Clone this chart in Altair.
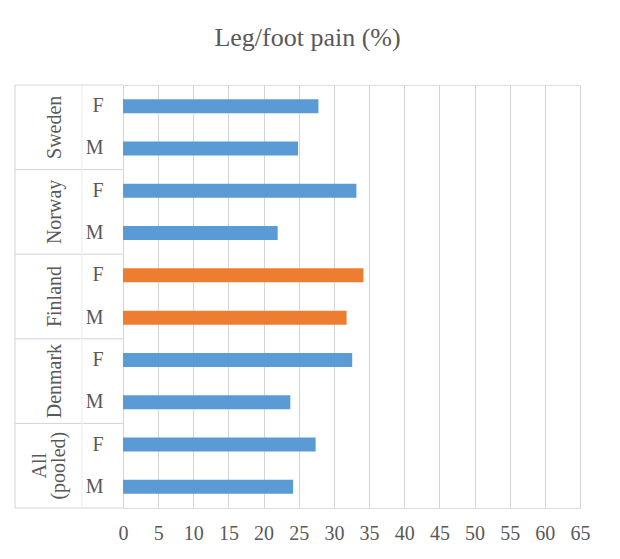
import altair as alt
import pandas as pd

# Data (top to bottom)
countries = ["Sweden", "Sweden", "Norway", "Norway", "Finland", "Finland",
             "Denmark", "Denmark", "All (pooled)", "All (pooled)"]
sexes = ["F", "M", "F", "M", "F", "M", "F", "M", "F", "M"]
values = [27.8, 24.9, 33.2, 22.0, 34.2, 31.8, 32.6, 23.8, 27.4, 24.2]
highlight_country = "Finland"
x_ticks = list(range(0, 70, 5))

keys = [f"{c}|{s}" for c, s in zip(countries, sexes)]
df = pd.DataFrame({
    "key": keys,
    "country": countries,
    "label": [c.replace(" ", "\n") for c in countries],
    "multi": [" " in c for c in countries],
    "sex": sexes,
    "value": values,
    "hl": ["hl" if c == highlight_country else "other" for c in countries],
})

FONT = "Liberation Serif"
TXT = "#595959"
LINE = "#D4D4D4"
W, H = 457, 423

yscale = alt.Scale(paddingInner=0, paddingOuter=0)

base = alt.Chart(df)

bars = base.mark_bar(size=14).encode(
    x=alt.X("value:Q", scale=alt.Scale(domain=[0, 65], nice=False),
            axis=alt.Axis(values=x_ticks, title=None, grid=True, gridColor=LINE,
                          domain=False, ticks=False, labelPadding=15,
                          labelFlush=False,
                          labelFont=FONT, labelFontSize=20, labelColor=TXT)),
    y=alt.Y("key:N", sort=keys, scale=yscale,
            axis=alt.Axis(title=None, ticks=False, domain=True, domainColor=LINE,
                          labelPadding=20, labelFont=FONT, labelFontSize=20,
                          labelColor=TXT,
                          labelExpr="substring(datum.label, length(datum.label)-1)")),
    color=alt.Color("hl:N", scale=alt.Scale(domain=["other", "hl"],
                                            range=["#5B9BD5", "#ED7D31"]),
                    legend=None),
)

# Country (group) labels, rotated, centred between F and M
label_style = dict(angle=270, align="center", baseline="middle", font=FONT,
                   fontSize=20, color=TXT, lineBreak="\n", lineHeight=19)
group_labels = base.transform_filter(
    (alt.datum.sex == "F") & (~alt.datum.multi)
).mark_text(**label_style).encode(
    y=alt.Y("key:N", sort=keys, bandPosition=1),
    x=alt.value(-68),
    text="label:N",
)
group_labels2 = base.transform_filter(
    (alt.datum.sex == "F") & (alt.datum.multi)
).mark_text(**label_style).encode(
    y=alt.Y("key:N", sort=keys, bandPosition=1),
    x=alt.value(-83),
    text="label:N",
)

# Horizontal separators between groups (axis area only)
sep_top = base.transform_filter(alt.datum.sex == "F").mark_rule(color=LINE).encode(
    y=alt.Y("key:N", sort=keys, bandPosition=0),
    x=alt.value(-108), x2=alt.value(0),
)
sep_bottom = base.transform_filter(alt.datum.key == keys[-1]).mark_rule(color=LINE).encode(
    y=alt.Y("key:N", sort=keys, bandPosition=1),
    x=alt.value(-108), x2=alt.value(0),
)
# Vertical borders of the category axis area
vleft = base.transform_filter(alt.datum.key == keys[0]).mark_rule(color=LINE).encode(
    x=alt.value(-108), y=alt.value(0), y2=alt.value(H),
)
vmid = base.transform_filter(alt.datum.key == keys[0]).mark_rule(color="#EBEBEB").encode(
    x=alt.value(-41), y=alt.value(0), y2=alt.value(H),
)

chart = alt.layer(bars, sep_top, sep_bottom, vleft, vmid,
                  group_labels, group_labels2).properties(
    width=W, height=H,
    title=alt.TitleParams("Leg/foot pain (%)", font=FONT, fontSize=26,
                          fontWeight="normal", color=TXT, anchor="middle",
                          frame="group", dx=-44, offset=34),
    autosize=alt.AutoSizeParams(type="none"),
    padding={"left": 115, "top": 77, "right": 32, "bottom": 43},
).configure_view(stroke=None).configure(background="white")

chart.save("out.html", embed_options={"renderer": "svg", "actions": False})
